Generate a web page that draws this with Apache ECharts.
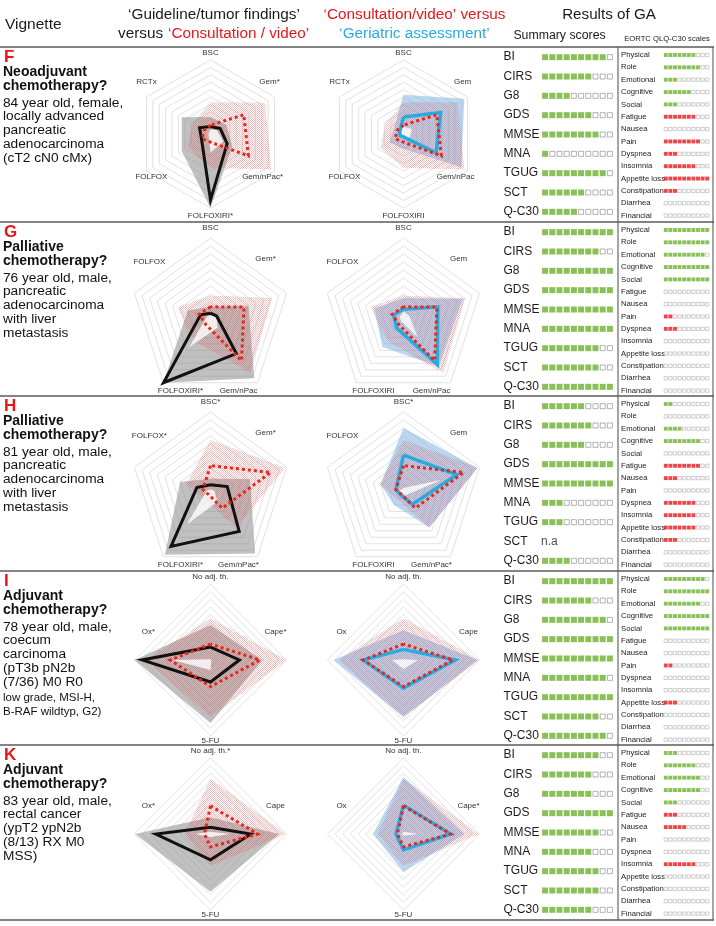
<!DOCTYPE html>
<html>
<head>
<meta charset="utf-8">
<script src="https://cdn.jsdelivr.net/npm/echarts@6/dist/echarts.min.js"></script>
<style>
html, body { margin: 0; padding: 0; background: #fff; }
#main { width: 716px; height: 926px; }
</style>
</head>
<body>
<div id="main"></div>
<script>
// ---- data ----
var summaryNames = ['BI', 'CIRS', 'G8', 'GDS', 'MMSE', 'MNA', 'TGUG', 'SCT', 'Q-C30'];
var summaryF = [9, 7, 4, 7, 8, 1, 9, 6, 5];
var summaryG = [10, 8, 10, 10, 10, 10, 8, 8, 10];
var summaryH = [6, 7, 6, 10, 10, 3, 3, null, 4];
var summaryI = [10, 7, 9, 10, 10, 9, 10, 8, 9];
var summaryK = [8, 7, 7, 10, 8, 7, 8, 8, 7];

var eortcNames = ['Physical', 'Role', 'Emotional', 'Cognitive', 'Social', 'Fatigue', 'Nausea', 'Pain',
  'Dyspnea', 'Insomnia', 'Appetite loss', 'Constipation', 'Diarrhea', 'Financial'];
var eortcF = [7, 8, 3, 6, 3, 7, 0, 8, 3, 7, 10, 3, 0, 0];
var eortcG = [10, 10, 9, 10, 10, 0, 0, 2, 3, 0, 0, 0, 0, 0];
var eortcH = [2, 0, 4, 8, 0, 8, 3, 0, 7, 7, 7, 3, 0, 0];
var eortcI = [9, 10, 8, 10, 10, 0, 0, 2, 0, 0, 3, 0, 0, 0];
var eortcK = [3, 7, 8, 8, 3, 3, 5, 0, 0, 7, 0, 0, 0, 0];

// radar axes, counterclockwise from the top
var axesF1 = ['BSC', 'RCTx', 'FOLFOX', 'FOLFOXIRI*', 'Gem/nPac*', 'Gem*'];
var axesF2 = ['BSC', 'RCTx', 'FOLFOX', 'FOLFOXIRI', 'Gem/nPac', 'Gem'];
var axesG1 = ['BSC', 'FOLFOX', 'FOLFOXIRI*', 'Gem/nPac', 'Gem*'];
var axesG2 = ['BSC', 'FOLFOX', 'FOLFOXIRI', 'Gem/nPac', 'Gem'];
var axesH1 = ['BSC*', 'FOLFOX*', 'FOLFOXIRI*', 'Gem/nPac*', 'Gem*'];
var axesH2 = ['BSC*', 'FOLFOX', 'FOLFOXIRI', 'Gem/nPac*', 'Gem'];
var axesI1 = ['No adj. th.', 'Ox*', '5-FU', 'Cape*'];
var axesI2 = ['No adj. th.', 'Ox', '5-FU', 'Cape'];
var axesK1 = ['No adj. th.*', 'Ox*', '5-FU', 'Cape'];
var axesK2 = ['No adj. th.', 'Ox', '5-FU', 'Cape*'];

// guideline/tumor findings (black), band upper / lower
var guideF = [1.0, 1.7, 1.4, 8.9, 2.6, 1.5];
var guideHiF = [2.3, 4.5, 4.5, 10, 3.4, 2.5];
var guideLoF = [0.6, 0.3, 0.3, 3.0, 2.0, 1.0];
var guideG = [0.6, 1.3, 10, 5.5, 0.8];
var guideHiG = [1.4, 3.0, 10, 9.3, 5.0];
var guideLoG = [0.3, 0.5, 4.5, 1.5, 0.8];
var guideH = [0.9, 1.8, 8.4, 6.1, 2.2];
var guideHiH = [1.7, 4.0, 9.7, 9.5, 5.2];
var guideLoH = [0.3, 0.5, 5.0, 1.5, 0.5];
var guideI = [1.7, 9.0, 2.9, 3.8];
var guideHiI = [4.6, 10, 8.3, 6.8];
var guideLoI = [0.1, 5.0, 1.3, 0.1];
var guideK = [0.9, 7.2, 3.4, 5.3];
var guideHiK = [2.2, 9.9, 7.6, 9.0];
var guideLoK = [0.3, 2.5, 0.4, 2.5];

// consultation/video (red dotted)
var consultF = [1.2, 1.0, 1.3, 1.1, 5.9, 5.2];
var consultHiF = [4.3, 2.8, 3.6, 4.6, 9.5, 8.5];
var consultLoF = [1.0, 0.8, 0.5, 2.5, 2.2, 1.3];
var consultG = [1.4, 1.5, 1.0, 6.6, 4.4];
var consultHiG = [2.8, 4.3, 3.5, 8.5, 8.1];
var consultLoG = [0.8, 0.6, 4.5, 3.0, 0.8];
var consultH = [3.3, 1.0, 0.4, 2.5, 7.9];
var consultHiH = [6.5, 3.2, 1.2, 5.5, 9.8];
var consultLoH = [0.5, 0.6, 5.0, 1.5, 5.0];
var consultI = [2.1, 5.3, 3.5, 6.5];
var consultHiI = [5.5, 8.5, 7.5, 10];
var consultLoI = [0.2, 5.0, 1.3, 2.0];
var consultK = [3.7, 0.8, 1.7, 6.2];
var consultHiK = [7.3, 3.4, 4.2, 9.9];
var consultLoK = [0.3, 2.0, 0.4, 2.5];

// geriatric assessment (blue)
var geriF = [2.3, 0.6, 0.5, 0.4, 5.1, 5.8];
var geriHiF = [5.3, 1.5, 2.2, 2.0, 9.0, 9.5];
var geriLoF = [1.2, 1.0, 0.6, 0.6, 1.0, 1.5];
var geriG = [1.1, 1.3, 1.5, 7.2, 4.5];
var geriHiG = [2.5, 3.8, 4.5, 7.5, 7.8];
var geriLoG = [1.0, 0.5, 0.5, 3.0, 1.0];
var geriH = [4.6, 1.0, 0.5, 1.9, 7.0];
var geriHiH = [8.0, 3.0, 2.0, 5.5, 9.7];
var geriLoH = [0.6, 0.5, 0.3, 0.5, 5.0];
var geriI = [1.4, 5.3, 3.7, 6.8];
var geriHiI = [3.9, 9.2, 7.5, 9.8];
var geriLoI = [0.1, 1.5, 1.2, 1.9];
var geriK = [3.8, 1.0, 2.1, 6.2];
var geriHiK = [7.5, 4.0, 5.0, 8.0];
var geriLoK = [0.3, 0.2, 0.2, 2.0];

var letters = ['F', 'G', 'H', 'I', 'K'];
var boldLines = [
  ['Neoadjuvant', 'chemotherapy?'],
  ['Palliative', 'chemotherapy?'],
  ['Palliative', 'chemotherapy?'],
  ['Adjuvant', 'chemotherapy?'],
  ['Adjuvant', 'chemotherapy?']
];
var plainLines = [
  ['84 year old, female,', 'locally advanced', 'pancreatic', 'adenocarcinoma', '(cT2 cN0 cMx)'],
  ['76 year old, male,', 'pancreatic', 'adenocarcinoma', 'with liver', 'metastasis'],
  ['81 year old, male,', 'pancreatic', 'adenocarcinoma', 'with liver', 'metastasis'],
  ['78 year old, male,', 'coecum', 'carcinoma', '(pT3b pN2b', '(7/36) M0 R0'],
  ['83 year old, male,', 'rectal cancer', '(ypT2 ypN2b', '(8/13) RX M0', 'MSS)']
];
var smallLines = [[], [], [], ['low grade, MSI-H,', 'B-RAF wildtyp, G2)'], []];

// ---- layout ----
var FONT = '"Liberation Sans", Arial, sans-serif';
var GREEN = '#6cb22e', RED = '#e8161b', CYAN = '#29abe2';
var rowTop = [47, 222, 396, 571, 745];
var rowEnd = 920;

// label nudges (px) per shape, order as the axes
var hexShift = [[0, -7], [0, -15], [5, 6], [0, 8], [-12, 6], [-5, -15]];
var pentShift = [[0, -10], [15, -31], [17, 8], [-19, 8], [-21, -34]];
var diamShift = [[0, -7], [14, -28], [0, 5], [-11, -28]];

var panels = [
  {axes1: axesF1, axes2: axesF2, cy: 134, r: 74, shift: hexShift,
   guide: guideF, guideHi: guideHiF, guideLo: guideLoF, consult: consultF, consultHi: consultHiF, consultLo: consultLoF,
   geri: geriF, geriHi: geriHiF, geriLo: geriLoF, summary: summaryF, eortc: eortcF},
  {axes1: axesG1, axes2: axesG2, cy: 318, r: 80, shift: pentShift,
   guide: guideG, guideHi: guideHiG, guideLo: guideLoG, consult: consultG, consultHi: consultHiG, consultLo: consultLoG,
   geri: geriG, geriHi: geriHiG, geriLo: geriLoG, summary: summaryG, eortc: eortcG},
  {axes1: axesH1, axes2: axesH2, cy: 492, r: 80, shift: pentShift,
   guide: guideH, guideHi: guideHiH, guideLo: guideLoH, consult: consultH, consultHi: consultHiH, consultLo: consultLoH,
   geri: geriH, geriHi: geriHiH, geriLo: geriLoH, summary: summaryH, eortc: eortcH},
  {axes1: axesI1, axes2: axesI2, cy: 660, r: 76, shift: diamShift,
   guide: guideI, guideHi: guideHiI, guideLo: guideLoI, consult: consultI, consultHi: consultHiI, consultLo: consultLoI,
   geri: geriI, geriHi: geriHiI, geriLo: geriLoI, summary: summaryI, eortc: eortcI},
  {axes1: axesK1, axes2: axesK2, cy: 834, r: 76, shift: diamShift,
   guide: guideK, guideHi: guideHiK, guideLo: guideLoK, consult: consultK, consultHi: consultHiK, consultLo: consultLoK,
   geri: geriK, geriHi: geriHiK, geriLo: geriLoK, summary: summaryK, eortc: eortcK}
];

// red dotted hatch used for the consultation band
function makeHatch() {
  var c = document.createElement('canvas');
  c.width = 2; c.height = 2;
  var g = c.getContext('2d');
  g.fillStyle = 'rgba(232,45,45,0.3)';
  g.fillRect(0, 0, 1, 1);
  g.fillRect(1, 1, 1, 1);
  return c;
}
var hatch = {image: makeHatch(), repeat: 'repeat'};

function radarComp(cx, cy, r, axes, shift) {
  var rich = {};
  shift.forEach(function (s, i) {
    rich['p' + i] = {
      fontSize: 8, fontFamily: FONT, color: '#333',
      padding: [Math.max(0, 2 * s[1]), Math.max(0, -2 * s[0]), Math.max(0, -2 * s[1]), Math.max(0, 2 * s[0])]
    };
  });
  return {
    center: [cx, cy], radius: r, startAngle: 90, splitNumber: 10, shape: 'polygon',
    indicator: axes.map(function (a) { return {name: a, min: 0, max: 10}; }),
    axisNameGap: 0,
    axisName: {
      color: '#333', fontSize: 8, fontFamily: FONT, align: 'center', verticalAlign: 'middle', rich: rich,
      formatter: function (name) { return '{p' + axes.indexOf(name) + '|' + name + '}'; }
    },
    axisLine: {show: false},
    splitLine: {lineStyle: {color: '#d4d4d4', width: 0.7}},
    splitArea: {show: false}
  };
}

function minOf(a, b) { return a.map(function (v, i) { return Math.min(v, b[i]); }); }

function bandSeries(ri, vals, fill, opacity) {
  return {type: 'radar', radarIndex: ri, symbol: 'none', silent: true,
    lineStyle: {width: 0, opacity: 0},
    areaStyle: {color: fill, opacity: opacity},
    data: [{value: vals}]};
}
function lineSeries(ri, vals, color, width, type) {
  return {type: 'radar', radarIndex: ri, symbol: 'none', silent: true,
    lineStyle: {color: color, width: width, type: type, join: 'miter', cap: 'butt'},
    data: [{value: vals}]};
}

var radars = [], grids = [], xAxes = [], yAxes = [], series = [], graphics = [];

panels.forEach(function (p, pi) {
  var top = rowTop[pi];
  var r1 = radars.length, r2 = r1 + 1;
  radars.push(radarComp(210.5, p.cy, p.r, p.axes1, p.shift));
  radars.push(radarComp(403.5, p.cy, p.r, p.axes2, p.shift));

  // left: guideline vs consultation
  series.push(bandSeries(r1, p.guideHi, 'rgba(140,140,140,1)', 0.55));
  series.push(bandSeries(r1, p.consultHi, hatch, 1));
  series.push(bandSeries(r1, minOf(p.guideLo, p.consultLo), '#ffffff', 0.8));
  series.push(lineSeries(r1, p.guide, '#111', 3, 'solid'));
  series.push(lineSeries(r1, p.consult, '#e8261c', 3, [3, 3]));
  // right: consultation vs geriatric assessment
  series.push(bandSeries(r2, p.geriHi, 'rgba(120,175,225,1)', 0.5));
  series.push(bandSeries(r2, p.consultHi, hatch, 1));
  series.push(bandSeries(r2, minOf(p.geriLo, p.consultLo), '#ffffff', 0.8));
  series.push(lineSeries(r2, p.geri, CYAN, 3.5, 'solid'));
  series.push(lineSeries(r2, p.consult, '#e8261c', 3, [3, 3]));

  // summary scores
  var gs = grids.length;
  grids.push({left: 541.5, top: top + 0.5, width: 72, height: 174});
  xAxes.push({gridIndex: gs, type: 'value', min: -0.5, max: 9.5, show: false});
  yAxes.push({gridIndex: gs, type: 'category', data: summaryNames, inverse: true,
    axisLine: {show: false}, axisTick: {show: false}, splitLine: {show: false},
    axisLabel: {align: 'left', margin: 38, fontSize: 12, color: '#1a1a1a', fontFamily: FONT}});
  var sFill = [], sEmpty = [], sNa = [];
  p.summary.forEach(function (v, i) {
    if (v == null) { sNa.push([0, summaryNames[i]]); return; }
    for (var k = 0; k < 10; k++) {
      if (k < v) sFill.push([k, summaryNames[i]]); else sEmpty.push([k, summaryNames[i]]);
    }
  });
  series.push({type: 'scatter', xAxisIndex: gs, yAxisIndex: gs, symbol: 'rect', symbolSize: 6, silent: true,
    itemStyle: {color: GREEN}, data: sFill});
  series.push({type: 'scatter', xAxisIndex: gs, yAxisIndex: gs, symbol: 'rect', symbolSize: 5, silent: true,
    itemStyle: {color: '#fff', borderColor: '#888', borderWidth: 0.8}, data: sEmpty});
  if (sNa.length) {
    series.push({type: 'scatter', xAxisIndex: gs, yAxisIndex: gs, symbolSize: 0, silent: true, data: sNa,
      label: {show: true, position: 'right', distance: 0, offset: [-4, 0], formatter: 'n.a',
        fontSize: 12, color: '#1a1a1a', fontFamily: FONT}});
  }

  // EORTC QLQ-C30 scales
  var ge = grids.length;
  grids.push({left: 663.5, top: top + 1.8, width: 46, height: 173});
  xAxes.push({gridIndex: ge, type: 'value', min: -0.5, max: 9.5, show: false});
  yAxes.push({gridIndex: ge, type: 'category', data: eortcNames, inverse: true,
    axisLine: {show: false}, axisTick: {show: false}, splitLine: {show: false},
    axisLabel: {align: 'left', margin: 42.5, fontSize: 7.7, color: '#222', fontFamily: FONT}});
  var eFill = [], eEmpty = [];
  p.eortc.forEach(function (v, i) {
    for (var k = 0; k < 10; k++) {
      if (k < v) eFill.push({value: [k, eortcNames[i]], itemStyle: {color: i < 5 ? GREEN : RED}});
      else eEmpty.push([k, eortcNames[i]]);
    }
  });
  series.push({type: 'scatter', xAxisIndex: ge, yAxisIndex: ge, symbol: 'rect', symbolSize: 3.9, silent: true, data: eFill});
  series.push({type: 'scatter', xAxisIndex: ge, yAxisIndex: ge, symbol: 'rect', symbolSize: 3.3, silent: true,
    itemStyle: {color: '#fff', borderColor: '#9a9a9a', borderWidth: 0.6}, data: eEmpty});

  // vignette text
  graphics.push({type: 'text', style: {text: letters[pi], x: 4, y: top + 10, fill: RED,
    font: 'bold 17px ' + FONT, textVerticalAlign: 'middle'}});
  boldLines[pi].forEach(function (t, i) {
    graphics.push({type: 'text', style: {text: t, x: 3, y: top + 25 + 14 * i, fill: '#111',
      font: 'bold 14px ' + FONT, textVerticalAlign: 'middle'}});
  });
  plainLines[pi].forEach(function (t, i) {
    graphics.push({type: 'text', style: {text: t, x: 3, y: top + 56 + 13.7 * i, fill: '#111',
      font: '13.7px ' + FONT, textVerticalAlign: 'middle'}});
  });
  smallLines[pi].forEach(function (t, i) {
    graphics.push({type: 'text', style: {text: t, x: 3, y: top + 127 + 13.7 * i, fill: '#111',
      font: '11.5px ' + FONT, textVerticalAlign: 'middle'}});
  });
});

// frame lines
rowTop.concat([rowEnd]).forEach(function (y) {
  graphics.push({type: 'line', z: 100, shape: {x1: 0, y1: y, x2: 714, y2: y},
    style: {stroke: '#5a5a5a', lineWidth: 1.3}});
});
[618, 713].forEach(function (x) {
  graphics.push({type: 'line', z: 100, shape: {x1: x, y1: 47, x2: x, y2: rowEnd},
    style: {stroke: '#5a5a5a', lineWidth: 1.1}});
});

// header
function headText(t, x, y, size, color, align) {
  graphics.push({type: 'text', style: {text: t, x: x, y: y, fill: color, font: size + 'px ' + FONT,
    textAlign: align || 'center', textVerticalAlign: 'middle'}});
}
headText('Vignette', 5, 25, 15.5, '#1a1a1a', 'left');
headText('\u2018Guideline/tumor findings\u2019', 214, 15, 15.3, '#1a1a1a');
headText('versus', 118, 33.5, 15.3, '#1a1a1a', 'left');
headText('\u2018Consultation / video\u2019', 168, 33.5, 15.3, RED, 'left');
headText('\u2018Consultation/video\u2019 versus', 414.5, 15, 15.3, RED);
headText('\u2018Geriatric assessment\u2019', 414.5, 33.5, 15.3, CYAN);
headText('Results of GA', 609, 15, 15.2, '#1a1a1a');
headText('Summary scores', 559.5, 36, 12.3, '#1a1a1a');
headText('EORTC QLQ-C30 scales', 667, 39, 7.7, '#1a1a1a');

var chart = echarts.init(document.getElementById('main'));
chart.setOption({
  animation: false,
  radar: radars,
  grid: grids,
  xAxis: xAxes,
  yAxis: yAxes,
  series: series,
  graphic: graphics
});
</script>
</body>
</html>
